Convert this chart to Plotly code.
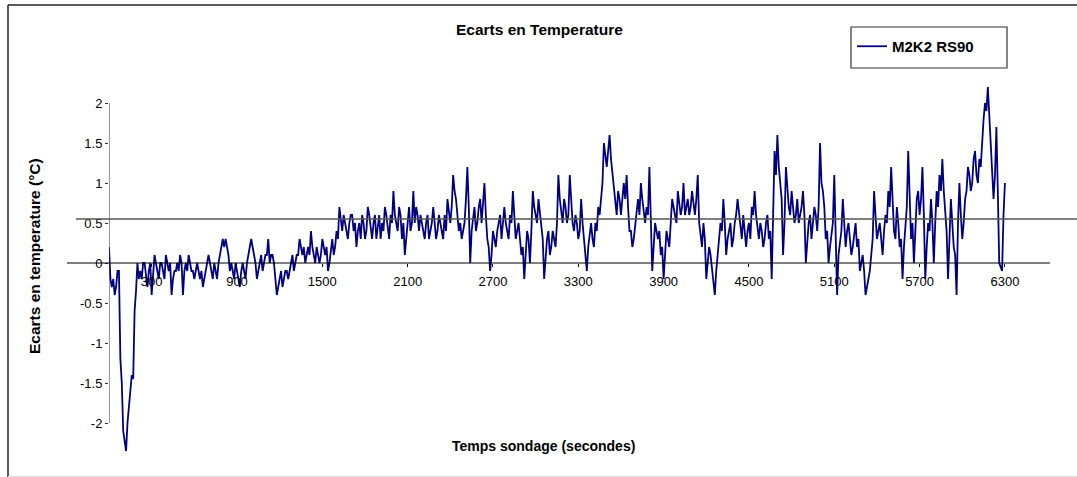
import plotly.graph_objects as go

# ---- data ----
# readings at t = 0, 20, 40, ... s
temps_even = (
    # 0 - 200 s
    [0.2, -0.3, -0.4, -0.1, -1.2, -2.1, -2.35, -1.8, -1.4, -0.6, 0.0]
    # 220 - 1000 s
    + [-0.1, 0.0, -0.2, -0.1, -0.4, 0.1, -0.1, 0.0, -0.1, 0.1,
       -0.1, -0.4, -0.1, 0.0, 0.1, -0.4, 0.0, 0.1, -0.1, -0.2,
       0.0, -0.2, -0.3, -0.1, 0.1, -0.1, 0.0, -0.2, 0.1, 0.3,
       0.3, 0.1, 0.0, -0.2, -0.1, -0.3, 0.0, -0.2, 0.1, 0.3]
    # 1020 - 1600 s
    + [0.1, -0.2, 0.0, -0.1, 0.1, 0.3, 0.1, 0.0, -0.4, -0.2,
       -0.3, -0.1, -0.2, 0.0, -0.1, 0.1, 0.3, 0.1, 0.0, 0.2,
       0.4, 0.1, 0.2, 0.0, 0.3, 0.1, -0.1, 0.2, 0.1, 0.4]
    # 1620 - 2140 s
    + [0.7, 0.4, 0.5, 0.3, 0.6, 0.4, 0.2, 0.5, 0.6, 0.3,
       0.7, 0.4, 0.5, 0.3, 0.6, 0.5, 0.7, 0.4, 0.6, 0.9,
       0.5, 0.7, 0.3, 0.1, 0.6, 0.4, 0.9]
    # 2160 - 3260 s
    + [0.7, 0.4, 0.5, 0.3, 0.6, 0.4, 0.7, 0.3, 0.6, 0.4,
       0.6, 0.8, 0.5, 1.1, 0.8, 0.4, 0.3, 0.5, 1.2, 0.0,
       0.6, 0.4, 0.7, 0.5, 1.0, 0.3, -0.1, 0.4, 0.2, 0.5,
       0.3, 0.7, 0.4, 0.6, 0.9, 0.3, 0.5, 0.1, -0.2, 0.4,
       0.0, 0.9, 0.6, 0.8, 0.5, -0.2, 0.3, 0.1, 0.4, 0.2,
       1.1, 0.6, 0.8, 0.5, 1.1, 0.5]
    # 3280 - 4340 s
    + [0.6, 0.3, 0.8, 0.3, -0.1, 0.4, 0.3, 0.5, 0.7, 0.8,
       1.5, 1.2, 1.6, 1.1, 0.7, 0.9, 0.6, 1.0, 1.1, 0.4,
       0.2, 0.5, 0.8, 1.0, 0.6, 0.7, 1.2, -0.1, 0.5, 0.3,
       0.1, -0.2, 0.4, 0.2, 0.8, 0.6, 0.9, 0.6, 1.0, 0.7,
       0.6, 0.9, 0.6, 1.1, 0.3, 0.5, -0.2, 0.2, -0.1, -0.4,
       0.1, 0.5, 0.8, 0.1]
    # 4360 - 5440 s
    + [0.4, 0.2, 0.5, 0.8, 0.4, 0.6, 0.2, 0.5, 0.7, 0.9,
       0.4, 0.5, 0.2, 0.5, 0.3, -0.2, 1.4, 1.6, 1.0, 0.1,
       1.2, 0.7, 0.9, 0.5, 0.8, 0.6, 0.9, 0.0, 0.5, 0.3,
       0.7, 0.4, 1.5, 0.9, 0.3, 0.0, 0.4, 1.1, -0.4, 0.3,
       0.8, 0.2, 0.5, 0.1, 0.4, 0.2, -0.1, 0.1, -0.4, -0.2,
       0.1, 0.9, 0.3, 0.5, 0.1]
    # 5460 - 6300 s
    + [0.6, 0.9, 1.2, 0.4, 0.7, 0.2, -0.2, 0.5, 1.4, 0.3,
       0.0, 0.8, 0.6, 1.2, -0.2, 0.5, 0.8, 0.0, 0.9, 1.1,
       1.3, 0.6, -0.2, 0.8, 0.2, -0.4, 1.0, 0.3, 0.8, 1.2,
       0.9, 1.3, 1.1, 1.3, 1.6, 2.0, 2.2, 1.5, 0.8, 1.7,
       0.0, -0.1, 1.0]
)
# readings at t = 10, 30, 50, ... s
temps_odd = (
    # 10 - 190 s
    [-0.2, -0.2, -0.3, -0.1, -1.5, -2.25, -2.0, -1.7, -1.45, -0.35]
    # 210 - 990 s
    + [-0.2, -0.2, 0.0, -0.3, 0.0, -0.2, 0.0, -0.2, 0.0, -0.2,
       0.0, 0.0, -0.2, -0.1, -0.1, 0.0, -0.1, -0.1, 0.0, -0.1,
       -0.1, -0.1, -0.1, -0.2, 0.0, 0.0, -0.2, -0.1, 0.0, 0.2,
       0.2, 0.2, -0.1, -0.1, 0.0, -0.2, -0.1, -0.1, 0.0, 0.2]
    # 1010 - 1590 s
    + [0.2, 0.0, -0.1, 0.1, 0.0, 0.1, 0.0, 0.1, -0.2, -0.3,
       -0.1, -0.2, -0.1, -0.1, 0.1, 0.0, 0.1, 0.2, 0.2, 0.1,
       0.1, 0.2, 0.0, 0.1, 0.1, 0.2, 0.2, 0.0, 0.3, 0.2]
    # 1610 - 2130 s
    + [0.3, 0.5, 0.6, 0.4, 0.5, 0.6, 0.5, 0.4, 0.3, 0.5,
       0.4, 0.6, 0.3, 0.6, 0.5, 0.3, 0.4, 0.6, 0.3, 0.5,
       0.6, 0.4, 0.6, 0.5, 0.3, 0.7, 0.5]
    # 2150 - 3250 s
    + [0.5, 0.6, 0.6, 0.4, 0.5, 0.3, 0.5, 0.5, 0.4, 0.5,
       0.3, 0.4, 0.6, 0.7, 0.9, 0.6, 0.5, 0.4, 0.8, 0.7,
       0.4, 0.7, 0.5, 0.8, 0.7, 0.6, 0.2, 0.1, 0.3, 0.4,
       0.6, 0.5, 0.5, 0.3, 0.5, 0.6, 0.4, 0.3, 0.2, 0.1,
       0.3, 0.4, 0.7, 0.5, 0.6, 0.3, 0.1, 0.4, 0.2, 0.3,
       0.5, 0.8, 0.5, 0.7, 0.6, 0.8]
    # 3270 - 4330 s
    + [0.4, 0.5, 0.4, 0.5, 0.2, 0.2, 0.5, 0.2, 0.4, 0.6,
       1.0, 1.3, 1.4, 1.3, 0.9, 0.6, 0.8, 0.8, 0.8, 0.7,
       0.4, 0.3, 0.6, 0.6, 0.8, 0.5, 0.6, 0.5, 0.2, 0.4,
       0.4, 0.2, 0.1, 0.3, 0.5, 0.7, 0.5, 0.7, 0.7, 0.6,
       0.8, 0.7, 0.7, 0.8, 0.5, 0.2, 0.3, 0.0, 0.1, -0.2,
       -0.1, 0.3, 0.4, 0.5]
    # 4350 - 5430 s
    + [0.3, 0.5, 0.3, 0.6, 0.6, 0.3, 0.4, 0.4, 0.3, 0.6,
       0.6, 0.3, 0.4, 0.3, 0.6, 0.4, 0.6, 1.1, 1.2, 0.8,
       0.5, 0.9, 0.6, 0.7, 0.6, 0.5, 0.7, 0.6, 0.3, 0.6,
       0.5, 0.6, 0.7, 1.0, 0.7, 0.4, 0.2, 0.5, 0.3, 0.1,
       0.4, 0.5, 0.4, 0.3, 0.2, 0.5, 0.3, 0.0, -0.1, -0.3,
       -0.1, 0.3, 0.6, 0.4, 0.3]
    # 5450 - 6290 s
    + [0.4, 0.5, 0.7, 0.8, 0.3, 0.5, 0.3, 0.2, 0.7, 0.8,
       0.5, 0.4, 0.9, 0.8, 0.6, 0.2, 0.4, 0.5, 0.5, 0.7,
       0.9, 0.9, 0.4, 0.3, 0.5, 0.1, 0.5, 0.6, 0.5, 0.9,
       1.1, 1.0, 1.4, 1.0, 1.2, 1.8, 1.9, 1.8, 1.2, 1.1,
       0.9, -0.05, 0.6]
)
sample_step_s = 10

reference_level = 0.55  # horizontal reference line (°C)
x_tickvals = [300, 900, 1500, 2100, 2700, 3300, 3900, 4500, 5100, 5700, 6300]
x_ticklabels = [str(v) for v in x_tickvals]
y_tickvals = [-2, -1.5, -1, -0.5, 0, 0.5, 1, 1.5, 2]
y_ticklabels = ["-2", "-1.5", "-1", "-0.5", "0", "0.5", "1", "1.5", "2"]

series_name = "M2K2 RS90"
title_text = "Ecarts en Temperature"
x_title = "Temps sondage (secondes)"
y_title = "Ecarts en temperature (°C)"

# merge the two reading lists in time order
temps = []
for i, v in enumerate(temps_even):
    temps.append(v)
    if i < len(temps_odd):
        temps.append(temps_odd[i])
times = [sample_step_s * i for i in range(len(temps))]

# ---- figure ----
FONT = "Liberation Sans, Arial, sans-serif"
W, H = 1077, 477
L, R, T, B = 109, 27, 63, 14
pw, ph = W - L - R, H - T - B


def px(xp):
    return (xp - L) / pw


def py(yp):
    return (H - B - yp) / ph


fig = go.Figure()
fig.add_trace(go.Scatter(
    x=times, y=temps, mode="lines", name="<b>%s</b>" % series_name,
    line=dict(color="#000080", width=1.8),
    showlegend=True,
))

shapes = [
    # reference level line
    dict(type="line", xref="paper", yref="y", x0=px(76), x1=px(1077),
         y0=reference_level, y1=reference_level,
         line=dict(color="#555555", width=1.6)),
    # x axis line at y = 0
    dict(type="line", xref="paper", yref="y", x0=px(67), x1=1.0, y0=0, y1=0,
         line=dict(color="black", width=1)),
    # y axis line
    dict(type="line", xref="x", yref="y", x0=0, x1=0, y0=-2, y1=2,
         line=dict(color="#333333", width=1)),
    # legend box
    dict(type="rect", xref="paper", yref="paper", x0=px(851), x1=px(1007),
         y0=py(68), y1=py(27), line=dict(color="#333333", width=1.2)),
    # outer chart frame
    dict(type="line", xref="paper", yref="paper", x0=px(8), x1=px(1077),
         y0=py(5), y1=py(5), line=dict(color="#222222", width=1.5)),
    dict(type="line", xref="paper", yref="paper", x0=px(8), x1=px(8),
         y0=py(5), y1=py(477), line=dict(color="#222222", width=1.5)),
    dict(type="line", xref="paper", yref="paper", x0=px(8), x1=px(1077),
         y0=py(476.5), y1=py(476.5), line=dict(color="#dddddd", width=1)),
]

annotations = [
    dict(text="<b>%s</b>" % title_text, xref="paper", yref="paper",
         x=px(539), y=py(29), xanchor="center", yanchor="middle",
         showarrow=False, font=dict(family=FONT, size=15.5, color="black")),
    dict(text="<b>%s</b>" % x_title, xref="paper", yref="paper",
         x=px(543), y=py(446), xanchor="center", yanchor="middle",
         showarrow=False, font=dict(family=FONT, size=14, color="black")),
    dict(text="<b>%s</b>" % y_title, xref="paper", yref="paper",
         x=px(34), y=py(256), xanchor="center", yanchor="middle",
         textangle=-90, showarrow=False,
         font=dict(family=FONT, size=15.5, color="black")),
]

fig.update_layout(
    width=W, height=H,
    margin=dict(l=L, r=R, t=T, b=B, autoexpand=False),
    paper_bgcolor="white", plot_bgcolor="white",
    font=dict(family=FONT, size=13, color="black"),
    shapes=shapes, annotations=annotations,
    showlegend=True,
    legend=dict(x=px(852), y=py(30), xanchor="left", yanchor="top",
                bgcolor="rgba(0,0,0,0)", borderwidth=0,
                font=dict(family=FONT, size=15, color="black"),
                itemwidth=30, tracegroupgap=0),
)
fig.update_xaxes(
    range=[0, 6617], anchor="free", position=0.5,
    showline=False, showgrid=False, zeroline=False,
    tickmode="array", tickvals=x_tickvals, ticktext=x_ticklabels,
    ticks="outside", ticklen=3, tickcolor="black", tickwidth=1,
    ticklabelstandoff=3,
    tickfont=dict(family=FONT, size=13, color="black"),
)
fig.update_yaxes(
    range=[-2.5, 2.5],
    showline=False, showgrid=False, zeroline=False,
    tickmode="array", tickvals=y_tickvals, ticktext=y_ticklabels,
    ticks="outside", ticklen=3, tickcolor="#333333", tickwidth=1,
    tickfont=dict(family=FONT, size=13, color="black"),
)

fig.write_html("out.html", config={"displayModeBar": False},
               post_script="document.body.style.margin='0';")
